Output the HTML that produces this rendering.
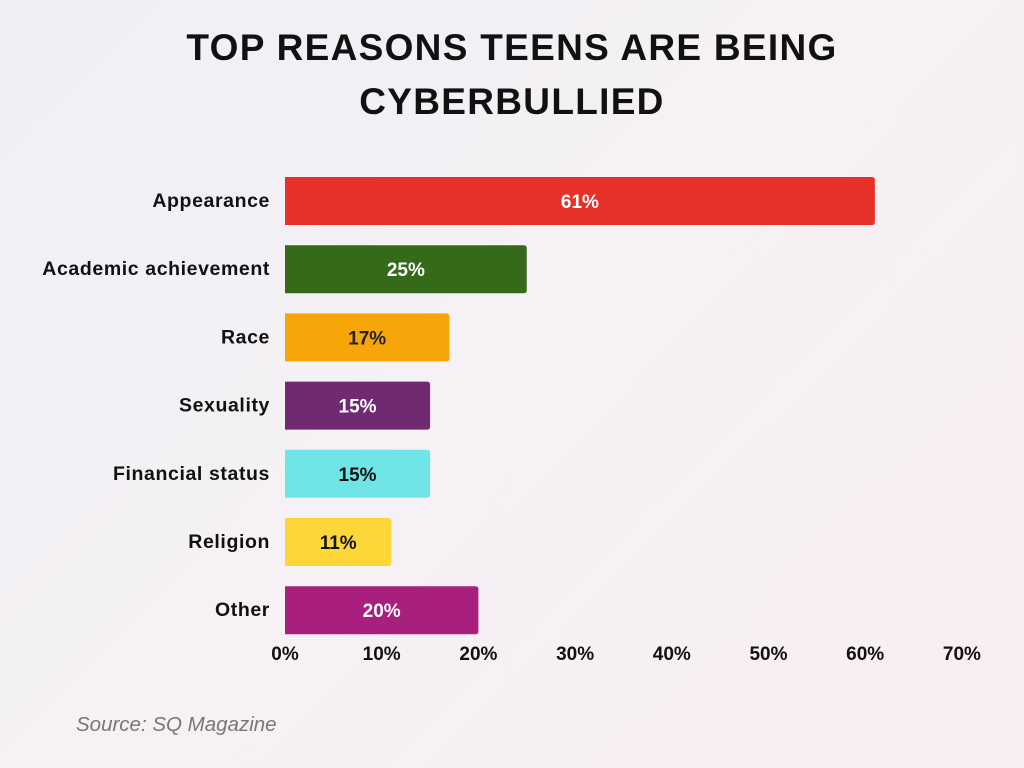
<!DOCTYPE html>
<html><head><meta charset="utf-8">
<style>
body{margin:0;width:1024px;height:768px;overflow:hidden;font-family:"Liberation Sans",sans-serif;background:linear-gradient(135deg,#eef0f6 0%,#f6f1f4 50%,#f8eef2 100%);}
svg{position:absolute;left:0;top:0}
</style></head><body>
<svg id="chart" width="1024" height="768">
<text x="512" y="60" text-anchor="middle" font-size="37" font-weight="900" fill="#111" style="letter-spacing:1.3px">TOP REASONS TEENS ARE BEING</text>
<text x="512" y="114" text-anchor="middle" font-size="37" font-weight="900" fill="#111" style="letter-spacing:1.3px">CYBERBULLIED</text>
<text x="76" y="731" font-size="20.5" font-style="italic" fill="#777">Source: SQ Magazine</text>
</svg>
<script>
const categories=["Appearance","Academic achievement","Race","Sexuality","Financial status","Religion","Other"];
const values=[61,25,17,15,15,11,20];
const colors=["#e8302a","#356a1a","#f7a60a","#6f2a72","#6fe5e8","#fcd737","#a81f7e"];
const labelColors=["#fff","#fff","#222","#fff","#111","#111","#fff"];
const ticks=[0,10,20,30,40,50,60,70];
const svg=document.getElementById('chart');
const NS="http://www.w3.org/2000/svg";
const x=v=>285+v*9.67;
const y=i=>177+i*68.2;
const bh=48;
function mk(t,a,txt){const e=document.createElementNS(NS,t);for(const k in a)e.setAttribute(k,a[k]);if(txt!==undefined)e.textContent=txt;svg.appendChild(e);return e;}
categories.forEach((c,i)=>{
 const w=x(values[i])-x(0);
 const r=mk('path',{d:`M${x(0)},${y(i)} h${w-3} q3,0 3,3 v${bh-6} q0,3 -3,3 h${-(w-3)} z`,fill:colors[i]});
 
 
 const l=mk('text',{x:270,y:y(i)+bh/2+6,'text-anchor':'end','font-size':19.5,'font-weight':'bold',fill:'#111','letter-spacing':'0.6'},c);
 
 
 const v=mk('text',{x:(x(0)+x(values[i]))/2,y:y(i)+bh/2+7,'text-anchor':'middle','font-size':19,'font-weight':'bold',fill:labelColors[i]},values[i]+'%');
 
 
});
ticks.forEach(t=>{
 const e=mk('text',{x:x(t),y:660,'text-anchor':'middle','font-size':19,'font-weight':'bold',fill:'#111'},t+'%');
 
 
});
</script>
</body></html>
